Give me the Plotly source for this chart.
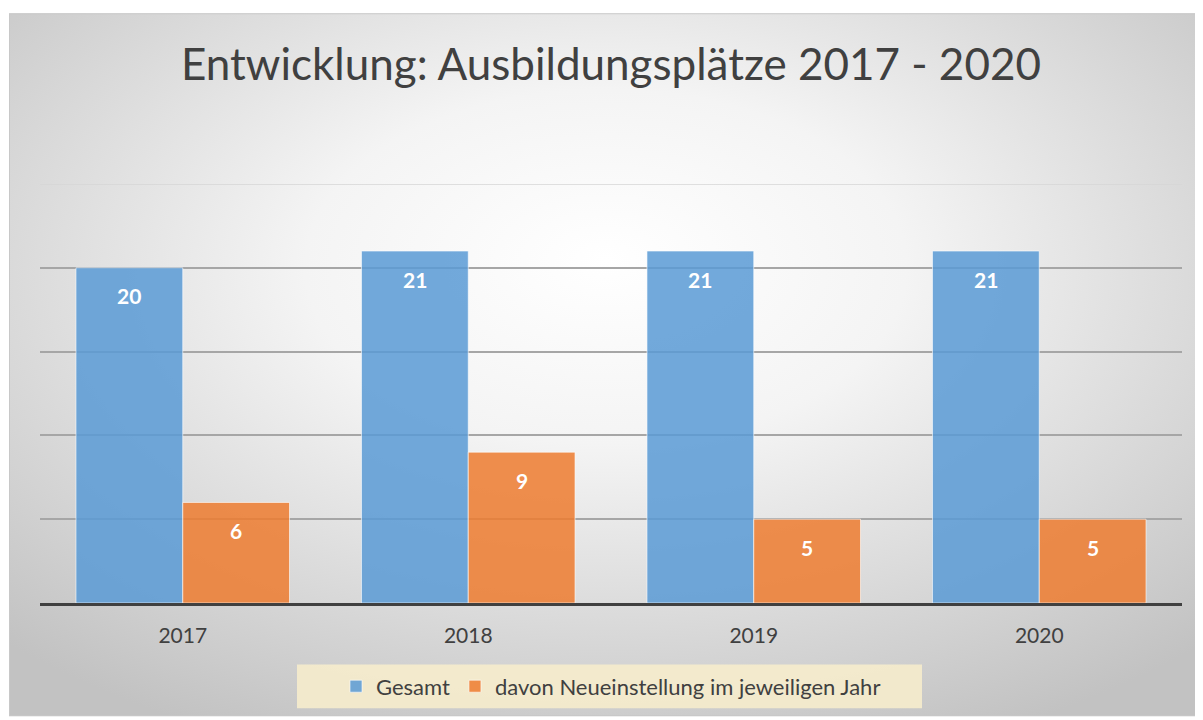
import base64
import plotly.graph_objects as go

# ---- data ----
years = ["2017", "2018", "2019", "2020"]
gesamt = [20, 21, 21, 21]
neu = [6, 9, 5, 5]
series_names = ["Gesamt", "davon Neueinstellung im jeweiligen Jahr"]
title_text = "Entwicklung: Ausbildungsplätze 2017 - 2020"

# ---- style ----
OFF = 8  # page body margin
W, H = 1203 - OFF, 720 - OFF
L, R, T, B = 40 - OFF, 21, 184 - OFF, 114
plot_w = W - L - R
plot_h = H - T - B
FONT = "Lato"
blue = "rgba(91,155,213,0.86)"
orange = "rgba(237,125,49,0.86)"
bargap = 0.252

def px_to_paper_x(px):
    return (px - OFF - L) / plot_w

def px_to_paper_y(py):
    return (H - B - (py - OFF)) / plot_h

xs = list(range(len(years)))

fig = go.Figure()
fig.add_trace(go.Bar(x=xs, y=gesamt, name=series_names[0],
                     marker=dict(color=blue, line=dict(color="rgba(255,255,255,0.6)", width=1))))
fig.add_trace(go.Bar(x=xs, y=neu, name=series_names[1],
                     marker=dict(color=orange, line=dict(color="rgba(255,255,255,0.6)", width=1))))

# data labels
off = (1 - bargap) / 4
annotations = []
for vals, sign in ((gesamt, -1), (neu, 1)):
    for i, v in enumerate(vals):
        annotations.append(dict(x=i + sign * off, y=v, xref="x", yref="y",
                                text=f"<b>{v}</b>", showarrow=False,
                                yanchor="middle", yshift=-28,
                                font=dict(family=FONT, size=21, color="white")))

# background radial gradient
svg = """<svg xmlns='http://www.w3.org/2000/svg' width='1194' height='708' viewBox='0 0 1194 708' preserveAspectRatio='none'>
<defs><radialGradient id='g' cx='50%' cy='38%' r='72%' fx='50%' fy='35%'>
<stop offset='0' stop-color='#ffffff'/><stop offset='0.35' stop-color='#f4f4f4'/>
<stop offset='1' stop-color='#c2c2c2'/></radialGradient></defs>
<rect x='0' y='0' width='1194' height='708' fill='url(#g)' stroke='#c8c8c8' stroke-width='2'/></svg>"""
src = "data:image/svg+xml;base64," + base64.b64encode(svg.encode()).decode()

x0p, x1p = px_to_paper_x(9), px_to_paper_x(1203)
y0p, y1p = px_to_paper_y(12), px_to_paper_y(720)

shapes = [
    # top gridline (lighter)
    dict(type="line", xref="paper", yref="y", x0=0, x1=1, y0=25, y1=25,
         line=dict(color="#d6d6d6", width=1.5), layer="below"),
    # legend box
    dict(type="rect", xref="paper", yref="paper",
         x0=px_to_paper_x(297), x1=px_to_paper_x(922),
         y0=px_to_paper_y(712), y1=px_to_paper_y(668),
         fillcolor="rgba(246,236,204,0.9)", line=dict(width=0), layer="below"),
]

fig.update_layout(
    width=W, height=H,
    margin=dict(l=L, r=R, t=T, b=B),
    paper_bgcolor="white", plot_bgcolor="rgba(0,0,0,0)",
    barmode="group", bargap=bargap, bargroupgap=0,
    title=dict(text=title_text, x=0.5, xref="paper", xanchor="center",
               y=1 - (65 - OFF) / H, yanchor="middle",
               font=dict(family=FONT, size=44, color="#404040")),
    font=dict(family=FONT, color="#404040"),
    images=[dict(source=src, xref="paper", yref="paper", x=x0p, y=y0p,
                 sizex=x1p - x0p, sizey=y0p - y1p, sizing="stretch",
                 xanchor="left", yanchor="top", layer="below")],
    shapes=shapes,
    annotations=annotations,
    legend=dict(orientation="h", x=0.5, xanchor="center", xref="paper",
                y=px_to_paper_y(690), yanchor="middle",
                bgcolor="rgba(0,0,0,0)", font=dict(family=FONT, size=22, color="#404040"),
                itemwidth=30),
    showlegend=True,
)
fig.update_xaxes(tickvals=xs, ticktext=years, range=[-0.5, len(years) - 0.5],
                 showline=True, linecolor="#404040", linewidth=3,
                 ticks="outside", ticklen=12, tickcolor="rgba(0,0,0,0)",
                 tickfont=dict(family=FONT, size=21, color="#404040"),
                 showgrid=False, zeroline=False)
fig.update_yaxes(range=[0, 25], tickvals=[5, 10, 15, 20], showticklabels=False,
                 showgrid=True, gridcolor="#a6a6a6", gridwidth=1.5, zeroline=False)

fig.write_html("out.html")
